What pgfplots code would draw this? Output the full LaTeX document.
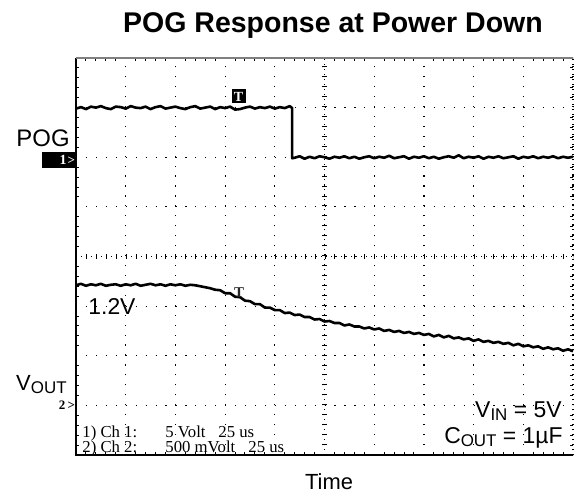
\documentclass[border=0pt]{standalone}
\usepackage{pgfplots}
\pgfplotsset{compat=1.18}
\usepackage{fontspec}
\setmainfont{Liberation Sans}
\newfontfamily\tms{Liberation Serif}

\begin{document}
\begin{tikzpicture}
\useasboundingbox (-38bp,-21bp) rectangle (251bp,227.5bp);
\begin{axis}[at={(0,0)}, anchor=south west, scale only axis,
  width=248.5bp, height=198.5bp,
  xmin=0, xmax=10, ymin=0, ymax=8,
  xtick={0,...,10}, ytick={0,...,8},
  xticklabels={}, yticklabels={},
  major tick length=0pt, minor tick num=4, minor tick length=1.4bp,
  minor tick style={black, line width=0.5bp},
  grid=major,
  major grid style={black, line width=0.6bp, dash pattern=on 0.6bp off 4.37bp},
  axis line style={draw=none},
  clip=false]
% frame
\draw[black, line width=0.9bp] (rel axis cs:0,1) -- (rel axis cs:0,0) -- (rel axis cs:1,0);
\draw[gray, line width=0.8bp] (rel axis cs:0,1) -- (rel axis cs:1,1);
\draw[black, line width=0.6bp, dash pattern=on 0.6bp off 1.9bp] (rel axis cs:1,0) -- (rel axis cs:1,1);
% centre lines
\draw[black, line width=0.5bp, dash pattern=on 0.5bp off 2.0bp] (axis cs:5,0) -- (axis cs:5,8);
\draw[black, line width=0.5bp, dash pattern=on 0.5bp off 2.0bp] (axis cs:0,4) -- (axis cs:10,4);
\draw[black, line width=2.4bp, dash pattern=on 0.5bp off 4.47bp] (axis cs:5,0) -- (axis cs:5,8);
\draw[black, line width=2.4bp, dash pattern=on 0.5bp off 4.47bp] (axis cs:0,4) -- (axis cs:10,4);

% POG trace (channel 1)
\addplot[black, line width=1.3bp, line join=round] coordinates {
(0.0,6.98) (0.1,7.01) (0.2,6.97) (0.3,7.02) (0.4,7.00) (0.5,7.03) (0.6,6.99) (0.7,6.97) (0.8,7.02) (0.9,7.01)
(1.0,6.98) (1.1,7.03) (1.2,7.00) (1.3,6.99) (1.4,7.02) (1.5,6.97) (1.6,7.01) (1.7,7.03) (1.8,6.98) (1.9,7.00)
(2.0,7.02) (2.1,6.99) (2.2,6.97) (2.3,7.01) (2.4,7.03) (2.5,6.98) (2.6,7.00) (2.7,7.02) (2.8,6.97) (2.9,7.01)
(3.0,6.99) (3.1,7.02) (3.2,6.96) (3.3,6.97) (3.4,7.00) (3.5,7.02) (3.6,6.98) (3.7,7.01) (3.8,6.99) (3.9,7.02)
(4.0,6.98) (4.1,7.01) (4.2,6.99) (4.3,7.03) (4.35,6.99) (4.35,5.98)
(4.4,5.99) (4.5,6.02) (4.6,5.97) (4.7,6.01) (4.8,5.98) (4.9,6.02)
(5.0,6.00) (5.1,5.97) (5.2,6.01) (5.3,5.99) (5.4,6.02) (5.5,5.98) (5.6,6.01) (5.7,5.97) (5.8,6.00) (5.9,6.02)
(6.0,5.98) (6.1,6.01) (6.2,5.99) (6.3,6.03) (6.4,5.98) (6.5,6.00) (6.6,6.02) (6.7,5.97) (6.8,6.01) (6.9,5.99)
(7.0,6.02) (7.1,5.98) (7.2,6.01) (7.3,5.97) (7.4,6.00) (7.5,6.02) (7.6,5.99) (7.7,6.04) (7.8,5.98) (7.9,6.01)
(8.0,5.99) (8.1,6.02) (8.2,5.97) (8.3,6.01) (8.4,5.99) (8.5,6.02) (8.6,5.98) (8.7,6.00) (8.8,6.02) (8.9,5.97)
(9.0,6.01) (9.1,5.99) (9.2,6.02) (9.3,5.98) (9.4,6.01) (9.5,5.99) (9.6,6.02) (9.7,5.98) (9.8,6.01) (9.9,5.99)
(10.0,6.01)
};
% VOUT trace (channel 2)
\addplot[black, line width=1.3bp, line join=round] coordinates {
(0.0,3.42) (0.1,3.45) (0.2,3.41) (0.3,3.44) (0.4,3.42) (0.5,3.45) (0.6,3.41) (0.7,3.43) (0.8,3.44) (0.9,3.41)
(1.0,3.44) (1.1,3.42) (1.2,3.45) (1.3,3.41) (1.4,3.43) (1.5,3.45) (1.6,3.42) (1.7,3.44) (1.8,3.41) (1.9,3.44)
(2.0,3.42) (2.1,3.44) (2.2,3.41) (2.3,3.43) (2.4,3.42) (2.5,3.40) (2.6,3.38) (2.7,3.36) (2.8,3.33) (2.9,3.32)
(3.0,3.26) (3.1,3.26) (3.2,3.19) (3.3,3.18) (3.4,3.11) (3.5,3.10) (3.6,3.04) (3.7,3.04) (3.8,2.97) (3.9,2.97)
(4.0,2.92) (4.1,2.92) (4.2,2.86) (4.3,2.87) (4.4,2.82) (4.5,2.83) (4.6,2.78) (4.7,2.78) (4.8,2.73) (4.9,2.74)
(5.0,2.69) (5.1,2.70) (5.2,2.66) (5.3,2.66) (5.4,2.61) (5.5,2.63) (5.6,2.59) (5.7,2.59) (5.8,2.55) (5.9,2.57)
(6.0,2.53) (6.1,2.55) (6.2,2.50) (6.3,2.52) (6.4,2.48) (6.5,2.50) (6.6,2.46) (6.7,2.48) (6.8,2.44) (6.9,2.46)
(7.0,2.42) (7.1,2.44) (7.2,2.39) (7.3,2.42) (7.4,2.37) (7.5,2.40) (7.6,2.35) (7.7,2.37) (7.8,2.33) (7.9,2.35)
(8.0,2.30) (8.1,2.33) (8.2,2.28) (8.3,2.30) (8.4,2.26) (8.5,2.28) (8.6,2.24) (8.7,2.26) (8.8,2.21) (8.9,2.24)
(9.0,2.19) (9.1,2.21) (9.2,2.17) (9.3,2.19) (9.4,2.14) (9.5,2.17) (9.6,2.13) (9.7,2.15) (9.8,2.10) (9.9,2.13)
(10.0,2.09)
};
\end{axis}

% title and labels
\node[anchor=base, inner sep=0, font=\fontsize{14.3}{16}\selectfont\bfseries] at (128.5bp,211bp) {POG Response at Power Down};
\node[anchor=base east, inner sep=0, font=\fontsize{12}{14}\selectfont] at (-3bp,154bp) {POG};
\fill[black] (-17bp,143.5bp) rectangle (-0.5bp,151.5bp);
\node[anchor=base, inner sep=0, text=white, font=\tms\bfseries\fontsize{7}{7}\selectfont] at (-6.5bp,145bp) {1};
\node[anchor=base, inner sep=0, text=white, font=\tms\bfseries\fontsize{6.5}{6.5}\selectfont] at (-2.3bp,145bp) {>};
\node[anchor=base east, inner sep=0, font=\tms\bfseries\fontsize{6.5}{6.5}\selectfont] at (-0.3bp,22.6bp) {2\,>};
\node[anchor=base east, inner sep=0] at (-4.5bp,32.5bp) {\fontsize{11}{12}\selectfont V\raisebox{-1.5bp}{\fontsize{8.5}{9}\selectfont OUT}};
\node[anchor=base west, inner sep=0, font=\fontsize{11.5}{12}\selectfont] at (6bp,70bp) {1.2V};
\node[anchor=base east, inner sep=0] at (243bp,19bp) {\fontsize{11.5}{12}\selectfont V\raisebox{-1.5bp}{\fontsize{8.5}{9}\selectfont IN} = 5V};
\node[anchor=base east, inner sep=0] at (243.5bp,6bp) {\fontsize{11.5}{12}\selectfont C\raisebox{-1.5bp}{\fontsize{8.5}{9}\selectfont OUT} = 1µF};
\node[anchor=base, inner sep=0, font=\fontsize{11}{12}\selectfont] at (126.5bp,-17bp) {Time};
% trigger markers
\node[fill=black, text=white, inner sep=0, minimum size=7bp, font=\tms\bfseries\fontsize{7}{7}\selectfont] at (81.25bp,179.25bp) {T};
\node[inner sep=0, text=black!85, font=\tms\bfseries\fontsize{7.5}{7.5}\selectfont] at (81.5bp,81bp) {T};
% channel info
\begin{scope}[every node/.style={anchor=base west, inner sep=0, font=\tms\fontsize{8.4}{9}\selectfont}]
\node at (3bp,9bp) {1) Ch 1:};
\node at (44.5bp,9bp) {5 Volt};
\node at (71bp,9bp) {25 us};
\node at (3bp,1.5bp) {2) Ch 2:};
\node at (44.5bp,1.5bp) {500 mVolt};
\node at (86bp,1.5bp) {25 us};
\end{scope}
\end{tikzpicture}
\end{document}
